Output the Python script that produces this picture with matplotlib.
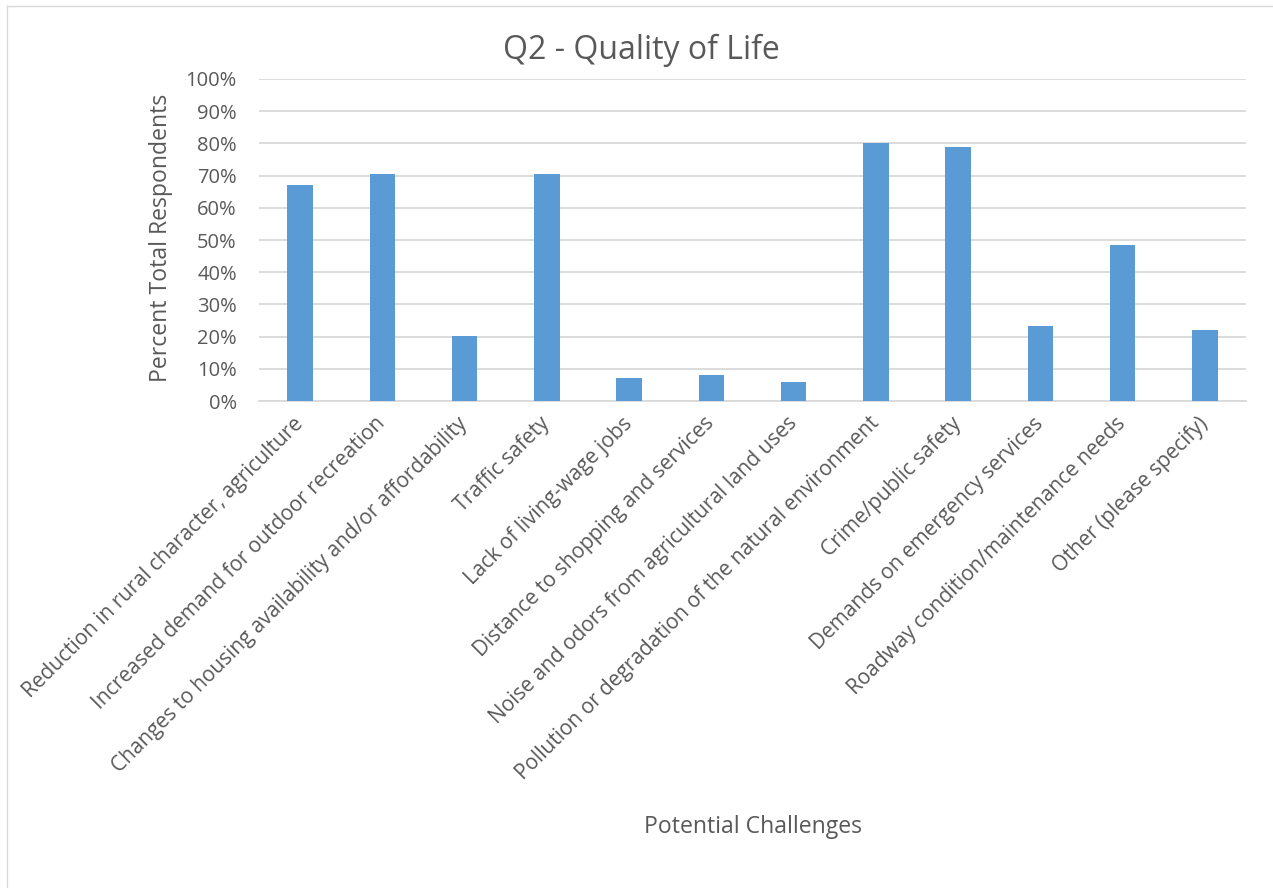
import matplotlib.pyplot as plt
from matplotlib.lines import Line2D
from matplotlib.ticker import PercentFormatter

plt.rcParams['font.family'] = ['Open Sans', 'DejaVu Sans']

categories = [
    "Reduction in rural character, agriculture",
    "Increased demand for outdoor recreation",
    "Changes to housing availability and/or affordability",
    "Traffic safety",
    "Lack of living-wage jobs",
    "Distance to shopping and services",
    "Noise and odors from agricultural land uses",
    "Pollution or degradation of the natural environment",
    "Crime/public safety",
    "Demands on emergency services",
    "Roadway condition/maintenance needs",
    "Other (please specify)",
]
percents = [67.0, 70.5, 20.1, 70.5, 7.0, 8.2, 5.8, 80.1, 79.0, 23.2, 48.3, 22.0]
y_ticks = list(range(0, 101, 10))

text_col = '#595959'
bar_col = '#5B9BD5'
grid_col = '#D9D9D9'

W, H = 1273, 888
fig = plt.figure(figsize=(W / 100, H / 100), dpi=100)
# plot area: x 259..1246 px, y 79..401 px
ax = fig.add_axes([259 / W, 1 - 401 / H, 987 / W, 322 / H])

x = range(len(categories))
ax.bar(x, percents, width=0.31, color=bar_col, zorder=3)

ax.set_xlim(-0.5, len(categories) - 0.5)
ax.set_ylim(0, 100)
ax.set_yticks(y_ticks)
ax.yaxis.set_major_formatter(PercentFormatter(decimals=0))
ax.grid(axis='y', color=grid_col, linewidth=1.3, zorder=0)

ax.set_xticks(list(x))
ax.set_xticklabels(categories, rotation=45, ha='right', va='center',
                   rotation_mode='anchor', fontsize=15, color=text_col)
ax.tick_params(axis='y', labelsize=14.5, labelcolor=text_col, length=0, pad=16)
ax.tick_params(axis='x', length=0, pad=14)

for s in ['top', 'right', 'left']:
    ax.spines[s].set_visible(False)
ax.spines['bottom'].set_color(grid_col)
ax.spines['bottom'].set_linewidth(1.3)

ax.set_ylabel('Percent Total Respondents', fontsize=16.6, color=text_col)
ax.yaxis.set_label_coords((173 - 259) / 987, (401 - 238) / 322)
fig.text(753 / W, 1 - 827 / H, 'Potential Challenges', fontsize=16.6, color=text_col,
         ha='center', va='center')
fig.text(641 / W, 1 - 50 / H, 'Q2 - Quality of Life', fontsize=23, color=text_col,
         ha='center', va='center')

# chart-area border (only left and top edges visible in the crop)
fig.lines.append(Line2D([7 / W, 7 / W], [0, 1 - 6 / H], transform=fig.transFigure,
                        color=grid_col, linewidth=1))
fig.lines.append(Line2D([7 / W, 1], [1 - 6 / H, 1 - 6 / H], transform=fig.transFigure,
                        color=grid_col, linewidth=1))

fig.savefig('out.png', dpi=100)
